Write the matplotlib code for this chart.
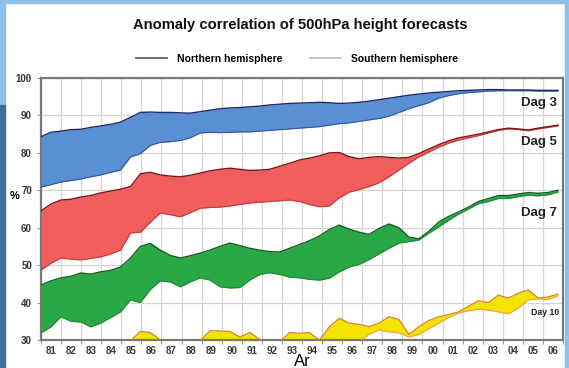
import numpy as np
import matplotlib.pyplot as plt
from matplotlib.lines import Line2D
from matplotlib.patches import Rectangle

plt.rcParams['font.family'] = ['Liberation Sans', 'DejaVu Sans']

# half-yearly readings, 1981 .. end of 2006
years = np.linspace(1981.0, 2006.75, 53)
year_labels = ['81', '82', '83', '84', '85', '86', '87', '88', '89', '90', '91', '92', '93',
               '94', '95', '96', '97', '98', '99', '00', '01', '02', '03', '04', '05', '06']

day3_nh = [84.3, 85.5, 85.8, 86.2, 86.3, 86.8, 87.2, 87.6, 88.2, 89.5, 90.8, 90.9, 90.8,
           90.8, 90.7, 90.6, 91.0, 91.4, 91.8, 92.0, 92.1, 92.3, 92.5, 92.8, 93.0, 93.2,
           93.3, 93.4, 93.5, 93.4, 93.2, 93.3, 93.5, 93.8, 94.2, 94.6, 95.0, 95.4, 95.7,
           96.0, 96.2, 96.4, 96.6, 96.7, 96.8, 96.9, 96.9, 96.8, 96.8, 96.8, 96.7, 96.7, 96.7]
day3_sh = [70.9, 71.5, 72.2, 72.6, 73.0, 73.6, 74.1, 74.8, 75.4, 78.9, 79.8, 82.0, 82.8,
           83.0, 83.3, 84.0, 85.3, 85.5, 85.4, 85.5, 85.6, 85.6, 85.8, 86.0, 86.2, 86.4,
           86.6, 86.8, 87.0, 87.4, 87.8, 88.0, 88.4, 88.8, 89.2, 89.8, 90.8, 91.8, 92.6,
           93.4, 94.6, 95.3, 95.8, 96.1, 96.3, 96.5, 96.6, 96.6, 96.6, 96.6, 96.5, 96.5, 96.5]

day5_nh = [64.5, 66.3, 67.4, 67.6, 68.2, 68.6, 69.3, 69.8, 70.3, 71.0, 74.4, 74.8, 74.1,
           73.8, 73.6, 74.0, 74.6, 75.2, 75.6, 75.9, 75.6, 75.3, 75.4, 75.6, 76.4, 77.2,
           78.1, 78.6, 79.2, 80.0, 80.1, 79.0, 78.4, 78.8, 79.0, 78.8, 78.6, 78.8, 79.8,
           81.0, 82.2, 83.2, 84.0, 84.5, 85.0, 85.6, 86.2, 86.6, 86.4, 86.1, 86.6, 87.0, 87.4]
day5_sh = [48.7, 50.5, 51.9, 51.6, 51.4, 51.8, 52.2, 53.0, 54.0, 58.6, 58.8, 61.5, 63.9,
           63.5, 62.9, 64.0, 65.2, 65.4, 65.5, 65.8, 66.2, 66.6, 66.8, 67.0, 67.2, 67.4,
           67.0, 66.2, 65.6, 65.8, 68.0, 69.5, 70.2, 71.0, 72.0, 73.6, 75.4, 77.2, 78.9,
           80.2, 81.5, 82.6, 83.4, 84.0, 84.6, 85.3, 86.0, 86.4, 86.2, 85.9, 86.4, 86.8, 87.2]

day7_nh = [44.7, 45.8, 46.6, 47.0, 47.9, 47.6, 48.2, 48.6, 49.5, 51.9, 55.0, 55.8, 54.0,
           52.6, 51.9, 52.5, 53.2, 54.0, 55.0, 55.9, 55.2, 54.5, 54.0, 53.6, 53.5, 54.5,
           55.5, 56.5, 57.8, 59.5, 60.7, 59.6, 58.8, 58.2, 59.8, 61.0, 60.0, 57.5, 57.0,
           59.0, 61.5, 63.0, 64.2, 65.5, 67.0, 67.8, 68.6, 68.6, 69.0, 69.4, 69.2, 69.4, 70.0]
day7_sh = [31.9, 33.5, 36.2, 35.0, 34.8, 33.5, 34.5, 36.0, 37.5, 40.7, 40.0, 43.5, 45.8,
           45.5, 44.2, 45.5, 46.6, 46.0, 44.2, 43.9, 44.0, 46.0, 47.5, 48.0, 47.5, 46.8,
           46.6, 46.2, 46.0, 46.5, 48.2, 49.5, 50.2, 51.5, 53.0, 54.5, 55.9, 56.3, 56.7,
           58.5, 60.2, 62.0, 63.6, 65.0, 66.4, 67.0, 67.8, 67.8, 68.3, 68.7, 68.5, 68.8, 69.5]

day10_nh = [28.0, 28.2, 28.5, 28.6, 28.8, 29.0, 29.2, 29.5, 29.6, 29.8, 32.3, 32.0, 30.0,
            29.5, 29.6, 29.7, 29.8, 32.5, 32.4, 32.3, 30.8, 32.0, 30.2, 29.5, 29.5, 32.0,
            31.8, 32.0, 30.0, 33.5, 35.8, 34.5, 34.2, 33.6, 34.5, 36.2, 35.5, 31.5, 33.5,
            35.2, 36.2, 36.8, 37.5, 39.0, 40.5, 40.0, 42.0, 41.2, 42.5, 43.4, 41.2, 41.5, 42.3]
day10_sh = [26.0, 26.0, 26.2, 26.3, 26.5, 26.6, 26.8, 27.0, 27.0, 27.2, 27.3, 27.4, 27.5,
            27.6, 27.6, 27.7, 27.8, 27.9, 28.0, 28.0, 28.1, 28.2, 28.2, 28.3, 28.4, 28.5,
            28.5, 28.6, 28.6, 28.8, 29.0, 29.2, 29.5, 31.5, 32.7, 32.2, 31.9, 30.8, 31.5,
            33.0, 34.5, 36.0, 37.2, 37.8, 38.2, 38.0, 37.5, 37.0, 38.5, 40.7, 41.0, 40.8, 41.8]

bands = [
    (day3_nh, day3_sh, '#5b8fd3', '#1c2a6b', '#3656a8', 'Dag 3', 93.3),
    (day5_nh, day5_sh, '#ef5d5d', '#7e1616', '#c83a3a', 'Dag 5', 83.0),
    (day7_nh, day7_sh, '#2aa845', '#0f5e20', '#1f8a36', 'Dag 7', 64.0),
]

fig = plt.figure(figsize=(5.69, 3.68), dpi=100)
ax = fig.add_axes([41 / 569, 1 - 340 / 368, 522 / 569, 262 / 368])

for nh, sh, fill, dark, light, name, ty in bands:
    ax.fill_between(years, sh, nh, color=fill, lw=0, zorder=2)
    ax.plot(years, sh, color=light, lw=0.8, zorder=3)
    ax.plot(years, nh, color=dark, lw=1.0, zorder=3)
    ax.text(2006.7, ty, name, ha='right', va='center', fontsize=9.5,
            fontweight='bold', color='#222222', zorder=5)

ax.fill_between(years, day10_sh, day10_nh, color='#f2e300', lw=0, zorder=2)
ax.plot(years, day10_sh, color='#f0a050', lw=0.8, zorder=3)
ax.plot(years, day10_nh, color='#d88025', lw=0.9, zorder=3)
ax.text(2006.8, 37.3, 'Day 10', ha='right', va='center', fontsize=6.3,
        fontweight='bold', color='#222222', zorder=5)

ax.set_xlim(1981, 2007)
ax.set_ylim(30, 100)
ax.set_xticks(np.arange(1981, 2008))
ax.set_xticks(np.arange(1981.5, 2007, 1.0), minor=True)
ax.set_xticklabels([])
ax.set_xticklabels(year_labels, minor=True)
ax.set_yticks(np.arange(30, 101, 10))
ax.tick_params(axis='x', which='major', length=3, color='#999999')
ax.tick_params(axis='x', which='minor', length=0, labelsize=7, pad=4,
               labelcolor='#3a3a3a')
ax.tick_params(axis='y', length=3, color='#999999', labelsize=7, labelcolor='#333333')
for lab in ax.get_xticklabels(minor=True) + ax.get_yticklabels():
    lab.set_fontweight('bold')

ax.grid(True, which='major', color='#d6d6ce', lw=0.9, zorder=0)
ax.set_axisbelow(True)
for sp in ax.spines.values():
    sp.set_color('#7a7a72')
    sp.set_linewidth(1.6)

ax.set_ylabel('%', rotation=0, fontsize=8, fontweight='bold', labelpad=6)
ax.yaxis.set_label_coords(-0.05, 0.53)
ax.set_xlabel('Ar', fontsize=12, labelpad=-1)

fig.text(300 / 569, 1 - 25 / 368, 'Anomaly correlation of 500hPa height forecasts',
         ha='center', va='center', fontsize=10.6, fontweight='bold', color='#111111')

handles = [Line2D([], [], color='#555555', lw=1.2),
           Line2D([], [], color='#bbbbbb', lw=1.2)]
fig.legend(handles, ['Northern hemisphere', 'Southern hemisphere'], ncol=2,
           loc='center', bbox_to_anchor=(297 / 569, 1 - 59 / 368), frameon=False,
           handlelength=3.0, handletextpad=1.0, columnspacing=2.6,
           prop={'weight': 'bold', 'size': 7.5})

# page frame of the slide
fig.patches.append(Rectangle((0, 1 - 3 / 368), 1, 3 / 368, transform=fig.transFigure,
                             color='#8ec1ea', zorder=0))
fig.patches.append(Rectangle((0, 1 - 105 / 368), 5 / 569, 105 / 368,
                             transform=fig.transFigure, color='#8ec1ea', zorder=0))
fig.patches.append(Rectangle((0, 0), 5 / 569, 1 - 105 / 368,
                             transform=fig.transFigure, color='#3d6d9c', zorder=0))
fig.patches.append(Rectangle((565 / 569, 0), 4 / 569, 1, transform=fig.transFigure,
                             color='#8ec1ea', zorder=0))

fig.savefig('out.png', dpi=100)
